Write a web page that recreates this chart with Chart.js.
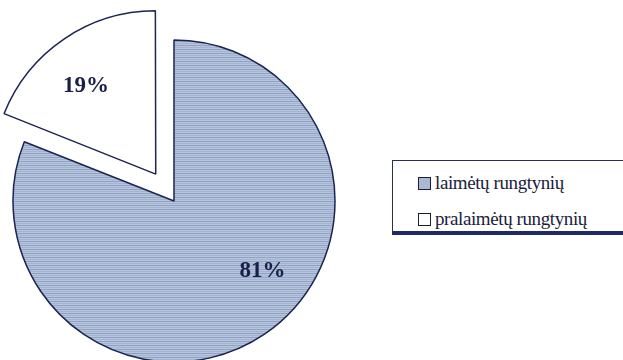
<!DOCTYPE html>
<html>
<head>
<meta charset="utf-8">
<script src="https://cdn.jsdelivr.net/npm/chart.js@4/dist/chart.umd.min.js"></script>
<style>
  html, body { margin: 0; padding: 0; background: #fff; }
  #wrap { position: relative; width: 623px; height: 360px; }
  #pie { position: absolute; left: 0; top: 0; }
  #legend {
    position: absolute; left: 392px; top: 160px; width: 240px; height: 75px;
    border: 1px solid #2a2f55; border-bottom: 4px solid #1f2a66;
    box-sizing: border-box; background: #fff;
    font-family: "Liberation Serif", "Times New Roman", serif; font-size: 19px; color: #1a1d3a;
    letter-spacing: -0.4px;
  }
  .item { position: absolute; left: 25px; height: 20px; line-height: 20px; white-space: nowrap; }
  .item .sw {
    display: inline-block; width: 11px; height: 11px; border: 1.5px solid #1a1d3a;
    vertical-align: -1px; margin-right: 4px;
  }
</style>
</head>
<body>
<div id="wrap">
  <canvas id="pie" width="623" height="360"></canvas>
  <div id="legend"></div>
</div>
<script>
const labels = ['laimėtų rungtynių', 'pralaimėtų rungtynių'];
const values = [81, 19];
const valueLabels = ['81%', '19%'];

// horizontal line texture like the scan
function stripes() {
  const c = document.createElement('canvas');
  c.width = 8; c.height = 4;
  const g = c.getContext('2d');
  g.fillStyle = '#b6c4dc';
  g.fillRect(0, 0, 8, 4);
  g.fillStyle = '#8ea2c6';
  g.fillRect(0, 1, 8, 1);
  g.fillStyle = '#a4b4d0';
  g.fillRect(0, 3, 8, 1);
  return g.createPattern(c, 'repeat');
}

const fills = [stripes(), '#ffffff'];

// legend
document.getElementById('legend').innerHTML = labels.map((l, i) => `
  <div class="item" style="top:${12 + i * 36}px">
    <span class="sw" style="background:${i === 0 ? '#a9b8d3' : '#fff'}"></span>${l}
  </div>`).join('');

const pctLabels = {
  id: 'pctLabels',
  afterDatasetsDraw(chart) {
    const ctx = chart.ctx;
    const meta = chart.getDatasetMeta(0);
    ctx.save();
    ctx.font = 'bold 23px "Liberation Serif", serif';
    ctx.fillStyle = '#1a1f4a';
    ctx.textAlign = 'center';
    ctx.textBaseline = 'middle';
    meta.data.forEach((arc, i) => {
      const p = arc.getProps(['x', 'y', 'startAngle', 'endAngle', 'outerRadius']);
      const a = p.startAngle + (p.endAngle - p.startAngle) * 0.44;
      const r = p.outerRadius * 0.7;
      let x = p.x + Math.cos(a) * r;
      let y = p.y + Math.sin(a) * r;
      // exploded slice is moved by offset / 4 along its middle
      const off = (arc.options.offset || 0) / 4;
      const mid = (p.startAngle + p.endAngle) / 2;
      x += Math.cos(mid) * off;
      y += Math.sin(mid) * off;
      ctx.fillText(valueLabels[i], x, y);
    });
    ctx.restore();
  }
};

new Chart(document.getElementById('pie'), {
  type: 'pie',
  data: {
    labels: labels,
    datasets: [{
      data: values,
      backgroundColor: fills,
      borderColor: '#1c2452',
      borderWidth: 1.5,
      offset: [0, 130]
    }]
  },
  options: {
    responsive: false,
    animation: false,
    radius: 161,
    layout: { padding: { left: 0, right: 275, top: 42, bottom: 0 } },
    plugins: { legend: { display: false }, tooltip: { enabled: false } }
  },
  plugins: [pctLabels]
});
</script>
</body>
</html>
